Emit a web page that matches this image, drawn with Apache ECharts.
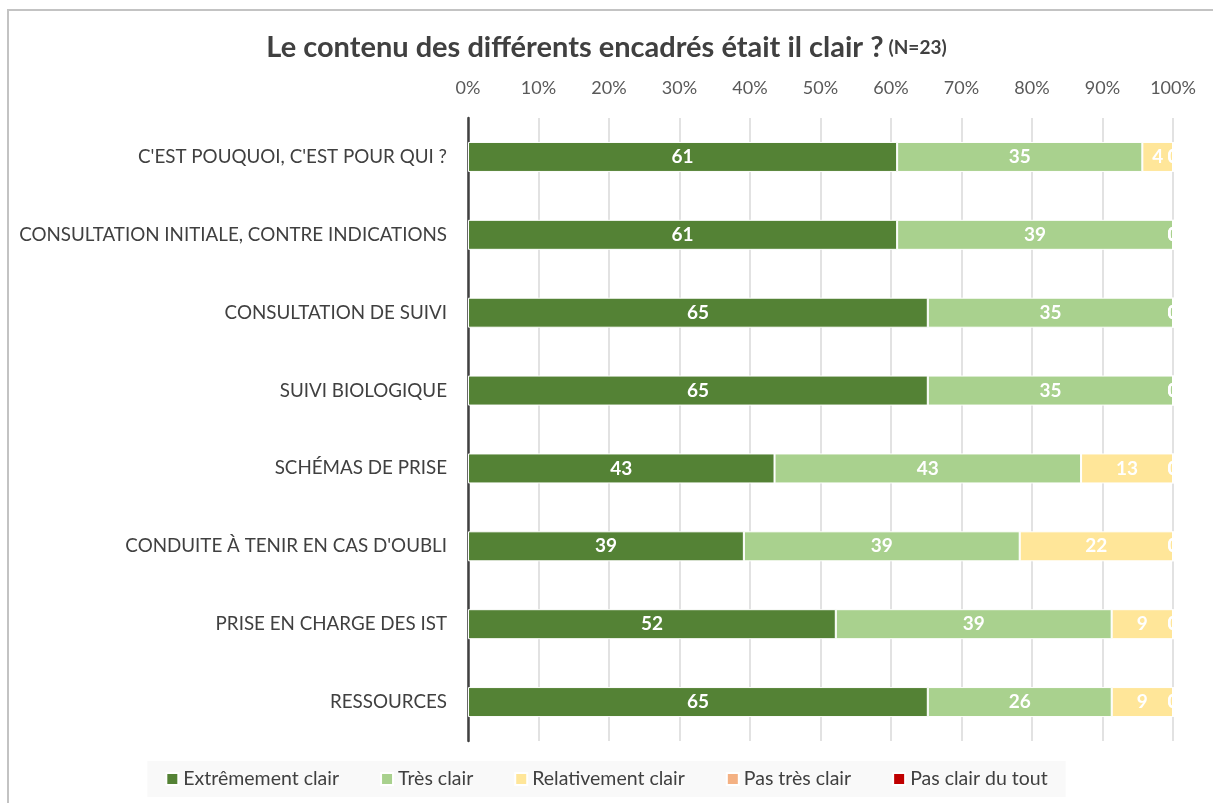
<!DOCTYPE html>
<html>
<head>
<meta charset="utf-8">
<script src="https://cdn.jsdelivr.net/npm/echarts@6/dist/echarts.min.js"></script>
<style>
  html, body { margin: 0; padding: 0; background: #fff; }
  #chart { width: 1213px; height: 803px; }
</style>
</head>
<body>
<div id="chart"></div>
<script>
"use strict";
// categories, top to bottom
var categories = [
    "C'EST POUQUOI, C'EST POUR QUI ?",
    "CONSULTATION INITIALE, CONTRE INDICATIONS",
    "CONSULTATION DE SUIVI",
    "SUIVI BIOLOGIQUE",
    "SCHÉMAS DE PRISE",
    "CONDUITE À TENIR EN CAS D'OUBLI",
    "PRISE EN CHARGE DES IST",
    "RESSOURCES"
];
var seriesNames = ["Extrêmement clair", "Très clair", "Relativement clair", "Pas très clair", "Pas clair du tout"];
var seriesColors = ["#548235", "#a9d18e", "#ffe699", "#f4b183", "#c00000"];

// % of respondents (N=23)
var extremementClair = [60.87, 60.87, 65.22, 65.22, 43.48, 39.13, 52.17, 65.22];
var tresClair        = [34.78, 39.13, 34.78, 34.78, 43.48, 39.13, 39.13, 26.09];
var relativementClair= [4.35, 0, 0, 0, 13.04, 21.74, 8.70, 8.69];
var pasTresClair     = [0, 0, 0, 0, 0, 0, 0, 0];
var pasClairDuTout   = [0, 0, 0, 0, 0, 0, 0, 0];

var xTicks = { min: 0, max: 100, interval: 10 };

var FONT = "Lato";
var allData = [extremementClair, tresClair, relativementClair, pasTresClair, pasClairDuTout];

var chart = echarts.init(document.getElementById("chart"), null, { renderer: "canvas" });

var series = allData.map(function (d, i) {
    return {
        name: seriesNames[i],
        type: "bar",
        stack: "total",
        data: d,
        barWidth: 30,
        itemStyle: { color: seriesColors[i], borderColor: "#ffffff", borderWidth: 1 },
        label: {
            show: true,
            position: "inside",
            color: "#ffffff",
            fontFamily: FONT,
            fontWeight: "bold",
            fontSize: 19,
            formatter: function (p) {
                return Math.round(p.value);
            }
        }
    };
});

var option = {
    backgroundColor: "#ffffff",
    animation: false,
    title: {
        text: "{main|Le contenu des différents encadrés était il clair ?} {small|(N=23)}",
        left: "center",
        top: 28,
        textStyle: {
            rich: {
                main: { fontFamily: FONT, fontSize: 29, fontWeight: "bold", color: "#404040" },
                small: { fontFamily: FONT, fontSize: 19, fontWeight: "bold", color: "#404040" }
            }
        }
    },
    legend: {
        data: seriesNames,
        left: "center",
        bottom: 6,
        itemWidth: 12,
        itemHeight: 12,
        itemGap: 41,
        padding: [8, 18],
        backgroundColor: "#f9f9f9",
        icon: "rect",
        textStyle: { fontFamily: FONT, fontSize: 19.5, color: "#404040" }
    },
    grid: {
        left: 468,
        right: 40,
        top: 118,
        bottom: 62,
        containLabel: false
    },
    xAxis: {
        type: "value",
        position: "top",
        min: xTicks.min,
        max: xTicks.max,
        interval: xTicks.interval,
        axisLine: { show: false },
        axisTick: { show: false },
        axisLabel: {
            formatter: "{value}%",
            fontFamily: FONT,
            fontSize: 18,
            color: "#595959",
            margin: 21
        },
        splitLine: { show: true, lineStyle: { color: "#d9d9d9", width: 1.5 } }
    },
    yAxis: {
        type: "category",
        data: categories,
        inverse: true,
        axisLine: { show: true, lineStyle: { color: "#404040", width: 2.5 } },
        axisTick: { show: false },
        axisLabel: {
            fontFamily: FONT,
            fontSize: 18.8,
            color: "#404040",
            margin: 21
        }
    },
    graphic: [
        {
            // outer chart frame (top + left visible)
            type: "rect",
            shape: { x: 8, y: 10, width: 1300, height: 900 },
            style: { fill: "none", stroke: "#c3c3c3", lineWidth: 2 },
            silent: true
        },
        {
            // plot area clip on the right edge
            type: "rect",
            shape: { x: 1174, y: 130, width: 36, height: 600 },
            style: { fill: "#ffffff" },
            z: 100,
            silent: true
        }
    ],
    series: series
};

chart.setOption(option);
</script>
</body>
</html>
